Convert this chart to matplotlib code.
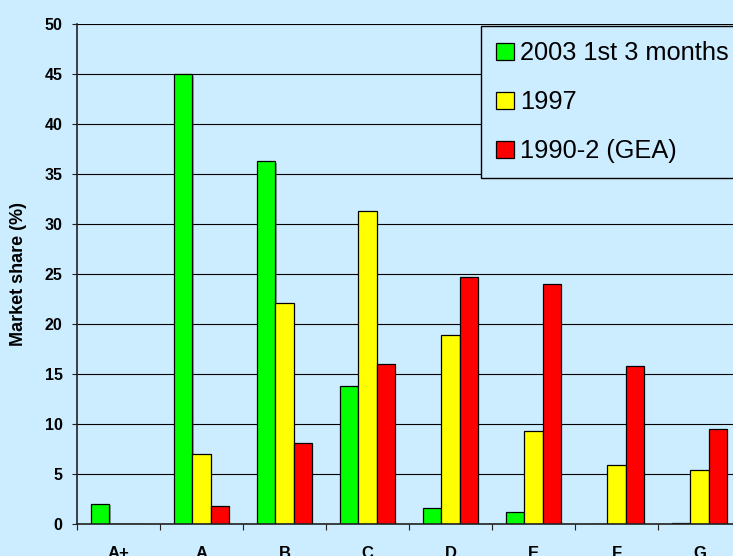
import numpy as np
import matplotlib
matplotlib.use('Agg')
import matplotlib.pyplot as plt
import matplotlib.patheffects as pe

plt.rcParams['font.family'] = ['Liberation Sans', 'DejaVu Sans']

# Données
classes = ['A+', 'A', 'B', 'C', 'D', 'E', 'F', 'G']
serie_2003 = [2.0, 45.0, 36.3, 13.8, 1.6, 1.15, 0.0, 0.1]
serie_1997 = [0.0, 7.0, 22.1, 31.25, 18.9, 9.25, 5.85, 5.4]
serie_1990 = [0.0, 1.8, 8.1, 16.0, 24.65, 23.95, 15.8, 9.5]
noms_series = ['2003 1st 3 months', '1997', '1990-2 (GEA)']

fond = '#CCECFF'
couleurs = ['#00FF00', '#FFFF00', '#FF0000']

fig = plt.figure(figsize=(7.33, 5.56), dpi=100, facecolor=fond)
ax = fig.add_axes([77 / 733, 32.5 / 556, 664 / 733, 499.5 / 556])
ax.set_facecolor(fond)

x = np.arange(len(classes))
largeur = 0.217
ombre = [pe.SimplePatchShadow(offset=(1.2, -1.2), shadow_rgbFace='#555555', alpha=0.5), pe.Normal()]

for k, (valeurs, couleur, nom) in enumerate(zip([serie_2003, serie_1997, serie_1990], couleurs, noms_series)):
    b = ax.bar(x + (k - 1) * largeur, valeurs, largeur, color=couleur, edgecolor='black',
               linewidth=0.9, label=nom, zorder=3)
    for p in b:
        p.set_path_effects(ombre)

ax.set_xlim(-0.5, len(classes) - 0.5)
ax.set_ylim(0, 50)
ax.set_yticks(np.arange(0, 51, 5))
ax.yaxis.grid(True, color='black', linewidth=0.8, zorder=0)
ax.set_axisbelow(True)

# ticks aux limites des classes, étiquettes au centre
ax.set_xticks(np.arange(-0.5, len(classes), 1.0))
ax.set_xticklabels([])
ax.set_xticks(x, minor=True)
ax.set_xticklabels(classes, minor=True, fontsize=12, fontweight='bold')
ax.tick_params(axis='x', which='major', direction='out', length=4.3, width=0.8, color='#222222')
ax.tick_params(axis='x', which='minor', length=0, pad=16)
ax.tick_params(axis='y', direction='out', length=3.6, width=0.8, pad=6.8, color='#222222',
               labelsize=11.5)
for t in ax.get_yticklabels():
    t.set_fontweight('bold')

for cote in ['top', 'right']:
    ax.spines[cote].set_visible(False)
for cote in ['left', 'bottom']:
    ax.spines[cote].set_color('#222222')
    ax.spines[cote].set_linewidth(1.2)
    ax.spines[cote].set_zorder(4)

ax.set_ylabel('Market share (%)', fontsize=13, fontweight='bold')
ax.yaxis.set_label_coords(-50 / 664, 0.5)

# légende qui déborde à droite comme dans l'original
leg = ax.legend(loc='upper left', bbox_to_anchor=(481 / 733, 1 - 26 / 556, 300 / 733, 0),
                bbox_transform=fig.transFigure, mode='expand', borderaxespad=0, fontsize=18.3,
                frameon=True, fancybox=False, edgecolor='black', facecolor=fond,
                framealpha=1, handlelength=0.7, handleheight=0.66, handletextpad=0.25,
                labelspacing=0.98, borderpad=0.6)
leg.get_frame().set_linewidth(1.0)
for h in leg.legend_handles:
    h.set_path_effects([])

fig.savefig('out.png', dpi=100, facecolor=fond)
